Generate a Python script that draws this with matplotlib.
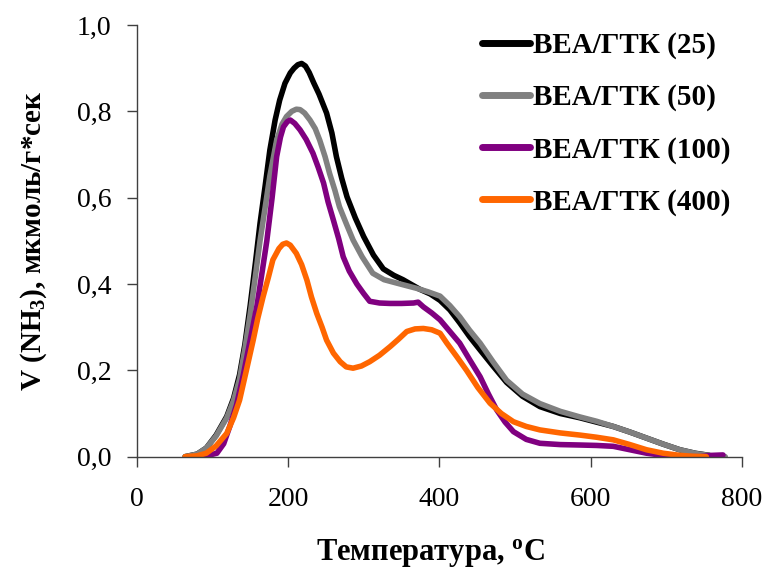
import matplotlib
matplotlib.use("Agg")
import matplotlib.pyplot as plt
from matplotlib.ticker import FuncFormatter, MultipleLocator

plt.rcParams['font.family'] = ['Liberation Serif', 'DejaVu Serif']
plt.rcParams['mathtext.fontset'] = 'custom'
plt.rcParams['mathtext.rm'] = 'Liberation Serif'
plt.rcParams['mathtext.bf'] = 'Liberation Serif:bold'

# BEA/ГТК (25)
x25 = [64, 80, 92, 105, 119, 128, 136, 143, 150, 157, 163, 170, 176, 183, 189,
       196, 203, 208, 213, 218, 223, 228, 234, 241, 251, 258, 264, 271, 278,
       289, 300, 313, 326, 340, 352, 364, 374, 388, 401, 414, 427, 440, 454,
       471, 489, 510, 533, 560, 586, 608, 630, 652, 674, 696, 718, 738, 757]
y25 = [0, 0.006, 0.02, 0.05, 0.093, 0.135, 0.19, 0.26, 0.35, 0.45, 0.54, 0.63,
       0.71, 0.78, 0.826, 0.865, 0.889, 0.9, 0.908, 0.911, 0.905, 0.89, 0.866,
       0.84, 0.796, 0.75, 0.695, 0.645, 0.602, 0.553, 0.51, 0.467, 0.435,
       0.42, 0.41, 0.398, 0.388, 0.377, 0.362, 0.34, 0.31, 0.278, 0.247, 0.21,
       0.172, 0.14, 0.116, 0.1, 0.09, 0.08, 0.07, 0.057, 0.043, 0.029, 0.016,
       0.008, 0.003]

# BEA/ГТК (50)
x50 = [64, 80, 92, 105, 119, 128, 136, 143, 150, 157, 163, 170, 176, 185, 192,
       198, 205, 211, 216, 222, 229, 236, 242, 249, 255, 262, 268, 277, 286,
       298, 312, 327, 344, 357, 370, 385, 401, 414, 427, 440, 454, 471, 489,
       510, 533, 560, 586, 608, 630, 652, 674, 696, 718, 740, 760, 778]
y50 = [0, 0.006, 0.02, 0.048, 0.09, 0.13, 0.18, 0.25, 0.33, 0.42, 0.5, 0.58,
       0.65, 0.733, 0.77, 0.788, 0.8, 0.805, 0.804, 0.796, 0.78, 0.76, 0.733,
       0.695, 0.656, 0.617, 0.579, 0.54, 0.502, 0.463, 0.425, 0.41, 0.402,
       0.396, 0.39, 0.382, 0.372, 0.35, 0.324, 0.293, 0.263, 0.22, 0.177,
       0.145, 0.123, 0.105, 0.092, 0.082, 0.07, 0.057, 0.043, 0.029, 0.016,
       0.007, 0.002, 0.0]

# BEA/ГТК (100)
x100 = [79, 92, 106, 115, 123, 132, 141, 150, 159, 166, 172, 179, 185, 190, 194,
        199, 203, 209, 216, 224, 233, 240, 247, 253, 260, 267, 273, 281, 291,
        300, 308, 321, 335, 350, 366, 372, 379, 390, 401, 414, 427, 440, 454,
        465, 476, 487, 498, 515, 533, 560, 586, 608, 630, 652, 674, 696, 718,
        745, 760, 775]
y100 = [0, 0.002, 0.008, 0.03, 0.07, 0.12, 0.19, 0.27, 0.35, 0.43, 0.5, 0.6,
        0.695, 0.74, 0.764, 0.776, 0.78, 0.772, 0.757, 0.735, 0.703, 0.67,
        0.634, 0.59, 0.548, 0.505, 0.463, 0.43, 0.40, 0.378, 0.36, 0.356,
        0.355, 0.355, 0.356, 0.358, 0.347, 0.333, 0.317, 0.29, 0.263, 0.225,
        0.185, 0.145, 0.108, 0.08, 0.058, 0.04, 0.031, 0.028, 0.027, 0.026,
        0.024, 0.016, 0.008, 0.003, 0.0, 0.0, 0.003, 0.004]

# BEA/ГТК (400)
x400 = [64, 80, 92, 105, 119, 128, 136, 145, 154, 160, 167, 174, 180, 188, 193,
        198, 203, 211, 218, 225, 231, 238, 245, 251, 260, 269, 277, 286, 297,
        308, 321, 335, 346, 357, 368, 379, 390, 401, 410, 423, 436, 451, 467,
        482, 498, 515, 533, 560, 586, 608, 630, 652, 674, 696, 718, 735, 753]
y400 = [0, 0.002, 0.008, 0.025, 0.054, 0.09, 0.131, 0.2, 0.27, 0.32, 0.37,
        0.415, 0.456, 0.482, 0.492, 0.495, 0.49, 0.471, 0.445, 0.409, 0.37,
        0.332, 0.3, 0.27, 0.24, 0.22, 0.208, 0.205, 0.21, 0.22, 0.235, 0.255,
        0.272, 0.29, 0.296, 0.297, 0.294, 0.286, 0.263, 0.232, 0.2, 0.16,
        0.124, 0.1, 0.081, 0.07, 0.062, 0.055, 0.05, 0.045, 0.039, 0.028,
        0.016, 0.008, 0.003, 0.001, 0.0]

series = [
    (x25, y25, "BEA/ГТК (25)", "#000000"),
    (x50, y50, "BEA/ГТК (50)", "#808080"),
    (x100, y100, "BEA/ГТК (100)", "#800080"),
    (x400, y400, "BEA/ГТК (400)", "#FF6600"),
]

fig = plt.figure(figsize=(7.68, 5.74), dpi=100)
ax = fig.add_axes([0.178, 0.2044, 0.788, 0.752])

for xs, ys, lab, col in series:
    ax.plot(xs, ys, color=col, lw=4, label=lab, solid_capstyle='round',
            solid_joinstyle='round')

ax.set_xlim(0, 800)
ax.set_ylim(0, 1.0)
ax.xaxis.set_major_locator(MultipleLocator(200))
ax.yaxis.set_major_locator(MultipleLocator(0.2))
ax.yaxis.set_major_formatter(FuncFormatter(lambda v, p: f"{v:.1f}".replace(".", ",")))

for s in ["top", "right"]:
    ax.spines[s].set_visible(False)
for s in ["left", "bottom"]:
    ax.spines[s].set_color("#404040")
    ax.spines[s].set_linewidth(1.0)

ax.tick_params(direction="out", length=7, width=1, color="#404040",
               labelsize=20)
ax.tick_params(axis="x", pad=15)
ax.tick_params(axis="y", pad=11)

ax.set_xlabel("Температура, $\\mathbf{^{o}}$C", fontsize=22, fontweight="bold")
ax.xaxis.set_label_coords(0.485, -0.185, transform=ax.transAxes)
ax.xaxis.label.set_va("top")
ax.set_ylabel("V (NH$\\mathbf{_{3}}$), мкмоль/г*сек", fontsize=21,
              fontweight="bold", labelpad=20)

leg = fig.legend(loc="upper left", bbox_to_anchor=(482 / 768, 1 - 32 / 574),
                 frameon=False, prop={"size": 21, "weight": "bold"},
                 handlelength=1.65, handletextpad=0.1, labelspacing=0.85,
                 borderpad=0, borderaxespad=0)
for line in leg.get_lines():
    line.set_linewidth(5)

fig.savefig("out.png", dpi=100)
